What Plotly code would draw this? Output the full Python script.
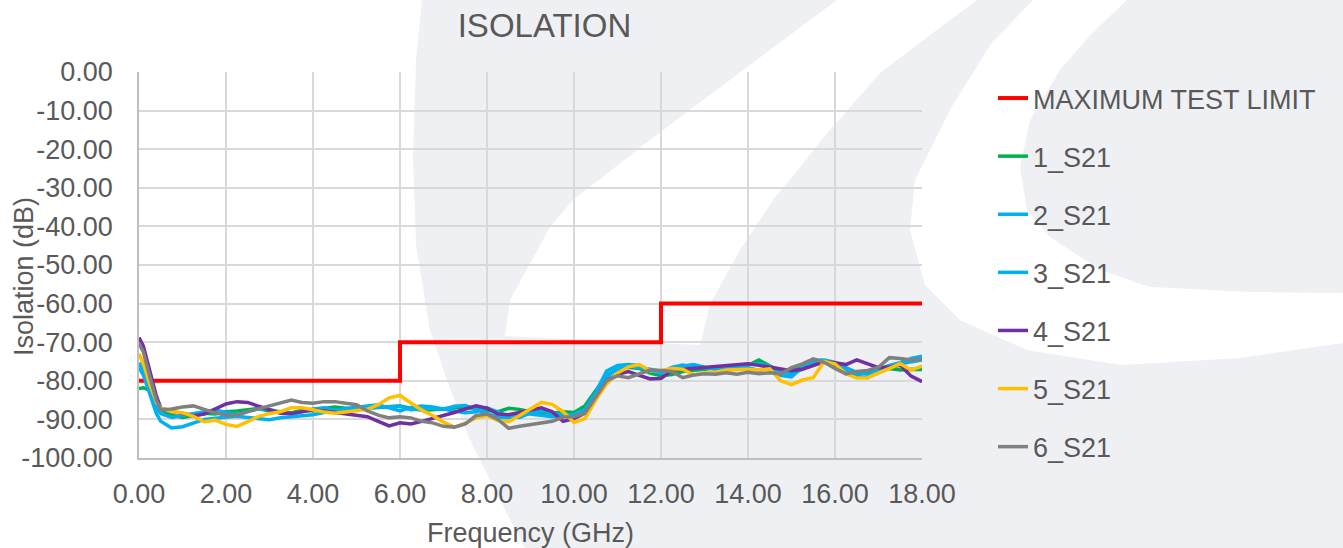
import plotly.graph_objects as go

# ---------------- data ----------------
freq_ghz = [0, 0.1, 0.25, 0.4, 0.5, 0.75, 1.0, 1.25, 1.5, 1.75, 2.0, 2.25, 2.5, 2.75, 3.0, 3.25, 3.5, 3.75,
            4.0, 4.25, 4.5, 4.75, 5.0, 5.25, 5.5, 5.75, 6.0, 6.25, 6.5, 6.75, 7.0, 7.25, 7.5, 7.75,
            8.0, 8.25, 8.5, 8.75, 9.0, 9.25, 9.5, 9.75, 10.0, 10.25, 10.5, 10.75, 11.0, 11.25, 11.5, 11.75,
            12.0, 12.25, 12.5, 12.75, 13.0, 13.25, 13.5, 13.75, 14.0, 14.25, 14.5, 14.75, 15.0, 15.25, 15.5, 15.75,
            16.0, 16.25, 16.5, 16.75, 17.0, 17.25, 17.5, 17.75, 18.0]

s21_1 = [-82.0, -81.8, -82.5, -85.5, -87.5, -88.9, -89.5, -89.0, -88.4, -88.6, -88.0, -87.8, -87.5, -87.2, -87.9, -88.0, -88.3, -87.6,
         -87.8, -87.2, -86.8, -87.1, -87.5, -87.0, -86.9, -86.7, -86.5, -87.1, -87.6, -87.5, -87.3, -86.9, -86.7, -87.2,
         -87.5, -88.0, -87.1, -87.4, -88.0, -88.2, -88.4, -88.0, -88.2, -86.5, -82.5, -78.6, -77.0, -76.5, -76.8, -78.0,
         -78.7, -78.4, -77.6, -77.2, -77.0, -76.7, -76.3, -76.4, -76.0, -74.6, -76.2, -77.6, -77.3, -76.5, -75.8, -75.0,
         -76.2, -77.8, -78.2, -77.6, -77.2, -76.8, -77.2, -77.0, -77.1]

s21_2 = [-76.6, -78.5, -83.5, -88.5, -90.5, -92.2, -91.9, -90.9, -90.0, -89.7, -89.5, -89.2, -89.5, -89.8, -90.1, -89.6, -89.4, -89.0,
         -88.8, -88.2, -88.0, -87.6, -87.4, -87.1, -86.9, -86.8, -86.6, -87.5, -87.2, -87.1, -87.4, -86.6, -86.4, -87.5,
         -88.6, -89.5, -89.6, -88.5, -88.6, -89.0, -89.3, -88.9, -88.7, -87.5, -83.0, -77.5, -76.0, -75.8, -76.0, -77.4,
         -78.0, -76.5, -75.9, -76.4, -76.7, -76.8, -76.5, -76.0, -75.7, -75.6, -76.2, -78.6, -79.0, -76.5, -74.7, -74.6,
         -75.2, -77.5, -78.8, -79.2, -77.0, -76.0, -75.3, -74.2, -73.6]

s21_3 = [-75.3, -77.5, -82.5, -87.0, -88.5, -89.5, -89.0, -88.4, -88.0, -87.6, -88.2, -88.8, -88.0, -87.2, -87.5, -88.1, -88.6, -88.0,
         -87.3, -87.0, -87.6, -87.2, -86.8, -86.5, -86.2, -87.0, -87.8, -86.9, -86.5, -86.8, -87.2, -87.8, -88.3, -88.0,
         -87.0, -88.2, -89.2, -89.5, -88.3, -87.8, -88.2, -89.0, -89.3, -88.0, -84.0, -79.0, -76.8, -76.2, -76.5, -77.0,
         -77.5, -77.0, -76.2, -75.8, -76.5, -77.0, -76.8, -76.2, -76.6, -77.3, -76.8, -77.8, -78.2, -77.0, -75.4, -75.0,
         -75.8, -76.6, -77.8, -78.3, -77.5, -76.2, -75.6, -75.0, -74.6]

s21_4 = [-68.8, -71.0, -77.5, -84.0, -87.0, -88.0, -88.4, -89.1, -88.6, -87.4, -86.0, -85.4, -85.6, -86.6, -87.6, -88.4, -88.5, -88.0,
         -87.5, -87.8, -88.2, -88.4, -88.9, -89.3, -90.5, -91.7, -90.9, -91.2, -90.5, -89.8, -89.0, -88.2, -87.3, -86.5,
         -87.1, -88.6, -88.8, -88.2, -87.4, -87.0, -88.0, -90.5, -89.8, -88.4, -84.5, -80.0, -78.3, -77.6, -78.6, -79.5,
         -79.4, -77.3, -77.0, -76.8, -76.6, -76.3, -76.1, -75.8, -75.6, -76.0, -76.5, -76.9, -77.4, -77.0, -76.0, -75.1,
         -75.3, -75.8, -74.6, -75.5, -76.6, -76.4, -76.0, -78.8, -80.2]

s21_5 = [-73.0, -75.5, -81.0, -85.5, -87.0, -88.0, -88.3, -89.2, -90.6, -90.2, -91.3, -91.8, -90.6, -89.2, -88.5, -88.0, -87.0, -87.0,
         -87.5, -88.1, -88.4, -88.0, -87.7, -87.4, -86.2, -84.4, -83.8, -85.7, -87.6, -89.0, -90.7, -92.0, -91.0, -89.6,
         -89.0, -90.3, -90.6, -89.0, -87.2, -85.6, -86.1, -88.0, -90.8, -89.8, -85.0, -80.8, -78.0, -76.4, -75.8, -77.4,
         -77.3, -76.8, -77.0, -78.5, -78.0, -77.8, -77.2, -77.0, -77.0, -77.2, -76.9, -80.0, -81.0, -79.8, -79.2, -75.0,
         -75.6, -78.2, -79.3, -79.2, -78.0, -77.0, -75.6, -77.2, -76.2]

s21_6 = [-70.3, -72.5, -79.0, -85.0, -87.5, -87.3, -86.8, -86.5, -87.4, -88.3, -88.9, -88.9, -88.0, -87.3, -86.5, -85.9, -85.0, -85.6,
         -85.8, -85.4, -85.4, -85.8, -86.2, -87.8, -88.9, -89.6, -89.3, -89.6, -90.5, -90.9, -91.8, -92.0, -91.2, -89.0,
         -88.6, -90.0, -92.3, -91.8, -91.4, -91.1, -90.5, -89.4, -89.3, -88.4, -84.0, -80.0, -78.7, -79.2, -78.2, -77.2,
         -77.3, -77.6, -79.2, -78.5, -78.2, -78.3, -77.9, -78.3, -77.8, -78.2, -77.9, -78.2, -76.6, -75.6, -74.3, -75.2,
         -76.8, -78.2, -77.6, -77.3, -76.5, -74.0, -74.2, -74.6, -74.4]

limit_freq = [0, 6, 6, 12, 12, 18]
limit_db = [-80, -80, -70, -70, -60, -60]

series_names = ["1_S21", "2_S21", "3_S21", "4_S21", "5_S21", "6_S21"]
series_values = [s21_1, s21_2, s21_3, s21_4, s21_5, s21_6]
series_colors = ["#00B050", "#00B0F0", "#00B0F0", "#7030A0", "#FFC000", "#808080"]

x_tick_vals = [0, 2, 4, 6, 8, 10, 12, 14, 16, 18]
x_tick_text = ["0.00", "2.00", "4.00", "6.00", "8.00", "10.00", "12.00", "14.00", "16.00", "18.00"]
y_tick_vals = [0, -10, -20, -30, -40, -50, -60, -70, -80, -90, -100]
y_tick_text = ["0.00", "-10.00", "-20.00", "-30.00", "-40.00", "-50.00", "-60.00", "-70.00", "-80.00", "-90.00", "-100.00"]

# ---------------- layout geometry (pixels) ----------------
W, H = 1343, 548
L, R, T, B = 139, 922, 72, 458
FONT = "Liberation Sans, Arial, sans-serif"
TXT = "#595959"


def px_path(points):
    pts = [((x - L) / (R - L), (B - y) / (B - T)) for x, y in points]
    return "M" + " L".join(f"{a:.4f},{b:.4f}" for a, b in pts) + " Z"


WM_GRAY = "#EFF0F4"
wm_gray_main = [(422, 0), (416, 60), (413, 157), (416, 245), (430, 330), (447, 380), (470, 440), (500, 500),
                (525, 548), (1343, 548), (1343, 0)]
wm_white_stripe = [(837, 0), (977, 0), (930, 35), (880, 73), (830, 130), (773, 200), (740, 250), (710, 304),
                   (700, 345), (505, 336), (510, 300), (550, 227), (573, 200), (650, 140), (730, 80)]
wm_white_c = [(1033, 0), (990, 45), (950, 110), (915, 180), (910, 230), (925, 285), (960, 320), (1027, 350),
              (1121, 365), (1240, 358), (1343, 343), (1343, 293), (1250, 292), (1150, 287), (1100, 270),
              (1050, 237), (1027, 210), (1020, 167), (1030, 120), (1060, 70), (1090, 35), (1127, 0)]

shapes = []
for pts, col in [(wm_gray_main, WM_GRAY), (wm_white_stripe, "white"), (wm_white_c, "white")]:
    shapes.append(dict(type="path", path=px_path(pts), xref="paper", yref="paper",
                       fillcolor=col, line=dict(width=0), layer="below"))

fig = go.Figure()
fig.add_trace(go.Scatter(x=limit_freq, y=limit_db, mode="lines", name="MAXIMUM TEST LIMIT",
                         line=dict(color="#FF0000", width=4), legendgroup="lim"))
for name, vals, col in zip(series_names, series_values, series_colors):
    fig.add_trace(go.Scatter(x=freq_ghz, y=vals, mode="lines", name=name,
                             line=dict(color=col, width=3.5), legendgroup=name))

fig.update_layout(
    width=W, height=H,
    margin=dict(l=L, r=W - R, t=T, b=H - B, pad=0, autoexpand=False),
    paper_bgcolor="white",
    plot_bgcolor="rgba(0,0,0,0)",
    font=dict(family=FONT, size=27, color=TXT),
    title=dict(text="ISOLATION", font=dict(family=FONT, size=33, color=TXT),
               x=544.5 / W, xref="container", xanchor="center",
               y=1 - 25 / H, yref="container", yanchor="middle"),
    shapes=shapes,
    showlegend=True,
    legend=dict(x=(993 - L) / (R - L), xanchor="left", y=(B - 74) / (B - T), yanchor="top",
                bgcolor="rgba(0,0,0,0)", borderwidth=0, tracegroupgap=20, maxheight=H,
                font=dict(family=FONT, size=27, color=TXT), itemwidth=30),
    annotations=[dict(text="Isolation (dB)", x=(24 - L) / (R - L), y=(B - 277) / (B - T),
                      xref="paper", yref="paper", xanchor="center", yanchor="middle",
                      showarrow=False, textangle=-90, font=dict(family=FONT, size=27, color=TXT))],
)

fig.update_xaxes(range=[0, 18], tickvals=x_tick_vals, ticktext=x_tick_text, automargin=False,
                 showgrid=True, gridcolor="#D9D9D9", gridwidth=1.5,
                 showline=True, linecolor="#BFBFBF", linewidth=1.5, mirror=False,
                 zeroline=False, ticks="", ticklabelstandoff=11,
                 title=dict(text="Frequency (GHz)", standoff=17, font=dict(family=FONT, size=27, color=TXT)))
fig.update_yaxes(range=[-100, 0], tickvals=y_tick_vals, ticktext=y_tick_text, automargin=False,
                 showgrid=True, gridcolor="#D9D9D9", gridwidth=1.5,
                 showline=True, linecolor="#BFBFBF", linewidth=1.5,
                 zeroline=False, ticks="", ticklabelstandoff=19)

fig.write_html("out.html", config={"displayModeBar": False},
               post_script="document.body.style.margin='0';document.body.style.overflow='hidden';")
